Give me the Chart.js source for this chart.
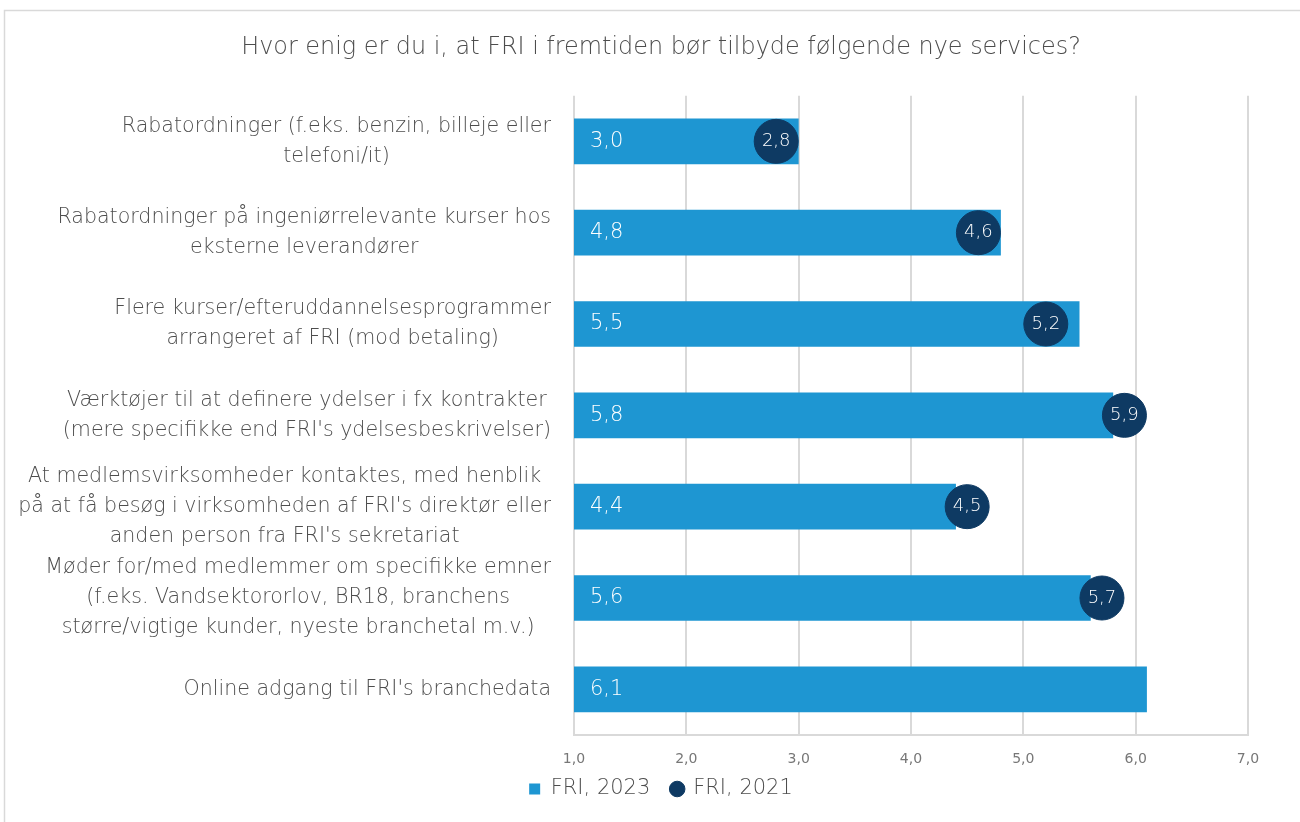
<!DOCTYPE html>
<html>
<head>
<meta charset="utf-8">
<script src="https://cdn.jsdelivr.net/npm/chart.js@4"></script>
<style>
  body { margin: 0; background: #fff; }
  #wrap { width: 1300px; height: 822px; position: relative; }
</style>
</head>
<body>
<div id="wrap"><canvas id="myChart"></canvas></div>
<script>
const titleText = "Hvor enig er du i, at FRI i fremtiden bør tilbyde følgende nye services?";
const categories = [
  ["Rabatordninger (f.eks. benzin, billeje eller", "telefoni/it)"],
  ["Rabatordninger på ingeniørrelevante kurser hos", "eksterne leverandører"],
  ["Flere kurser/efteruddannelsesprogrammer", "arrangeret af FRI (mod betaling)"],
  ["Værktøjer til at definere ydelser i fx kontrakter", "(mere specifikke end FRI's ydelsesbeskrivelser)"],
  ["At medlemsvirksomheder kontaktes, med henblik", "på at få besøg i virksomheden af FRI's direktør eller", "anden person fra FRI's sekretariat"],
  ["Møder for/med medlemmer om specifikke emner", "(f.eks. Vandsektororlov, BR18, branchens", "større/vigtige kunder, nyeste branchetal m.v.)"],
  ["Online adgang til FRI's branchedata"]
];
const seriesNames = ["FRI, 2023", "FRI, 2021"];
const values2023 = [3.0, 4.8, 5.5, 5.8, 4.4, 5.6, 6.1];
const values2021 = [2.8, 4.6, 5.2, 5.9, 4.5, 5.7, null];
const xTicks = [1, 2, 3, 4, 5, 6, 7];

const FONT = "'DejaVu Sans'";
const W = 200;
const TXT = "#4d4d4d";
const fmt = v => v.toFixed(1).replace(".", ",");

// tegner y-labels: centreret linje for linje, blokken højrestillet
const labelPlugin = {
  id: "labelPlugin",
  beforeDraw(chart) {
    const ctx = chart.ctx;
    ctx.save();
    ctx.fillStyle = "#fff";
    ctx.fillRect(0, 0, chart.width, chart.height);
    ctx.strokeStyle = "#d9d9d9";
    ctx.lineWidth = 1.5;
    ctx.strokeRect(4.5, 10.5, chart.width + 10, chart.height + 10);
    ctx.restore();
  },
  afterDraw(chart) {
    const ctx = chart.ctx;
    const yScale = chart.scales.y;
    ctx.save();
    ctx.font = W + " 20.6px " + FONT;
    ctx.fillStyle = TXT;
    ctx.textAlign = "center";
    ctx.textBaseline = "middle";
    const lh = 30;
    categories.forEach((lines, i) => {
      const y = yScale.getPixelForTick(i);
      const maxW = Math.max(...lines.map(l => ctx.measureText(l).width));
      const cx = 551 - maxW / 2;
      lines.forEach((l, j) => {
        ctx.fillText(l, cx, y + (j - (lines.length - 1) / 2) * lh);
      });
    });
    // værdier i søjler
    const barMeta = chart.getDatasetMeta(0);
    ctx.fillStyle = "#fff";
    ctx.textAlign = "left";
    ctx.font = W + " 21px " + FONT;
    barMeta.data.forEach((el, i) => {
      ctx.fillText(fmt(values2023[i]), chart.chartArea.left + 16, el.y);
    });
    // værdier i cirkler
    const ptMeta = chart.getDatasetMeta(1);
    ctx.font = W + " 18px " + FONT;
    ctx.textAlign = "center";
    ptMeta.data.forEach((el, i) => {
      if (values2021[i] == null) return;
      ctx.fillText(fmt(values2021[i]), el.x, el.y);
    });
    ctx.restore();
  }
};

const ctx = document.getElementById("myChart").getContext("2d");
new Chart(ctx, {
  type: "bar",
  data: {
    labels: categories.map(c => c.join(" ")),
    datasets: [
      {
        label: seriesNames[0],
        data: values2023.map(v => [1, v]),
        backgroundColor: "#1e96d2",
        categoryPercentage: 1,
        barPercentage: 0.5,
        order: 2,
        pointStyle: "rect"
      },
      {
        type: "line",
        label: seriesNames[1],
        data: values2021,
        indexAxis: "y",
        showLine: false,
        pointRadius: 22,
        pointHoverRadius: 22,
        pointBackgroundColor: "#0e3a63",
        pointBorderColor: "#0e3a63",
        backgroundColor: "#0e3a63",
        borderColor: "#0e3a63",
        pointStyle: "circle",
        order: 1
      }
    ]
  },
  options: {
    indexAxis: "y",
    responsive: true,
    maintainAspectRatio: false,
    animation: false,
    layout: { padding: { left: 22, right: 0, top: 0, bottom: 12.5 } },
    scales: {
      x: {
        min: 1,
        max: 7,
        afterBuildTicks: axis => { axis.ticks = xTicks.map(v => ({ value: v })); },
        afterFit: scale => { scale.height = 35.5; },
        grid: { color: "#d9d9d9", lineWidth: 2, drawTicks: false },
        border: { color: "#d9d9d9", width: 2 },
        ticks: {
          padding: 16,
          color: "#777",
          font: { family: FONT, size: 14 },
          callback: v => fmt(v)
        }
      },
      y: {
        grid: { display: false },
        border: { display: false },
        ticks: { display: false },
        afterFit: scale => { scale.width = 552; }
      },
      // tom højre akse, holder plads til højre for plotområdet
      yRight: {
        type: "linear",
        position: "right",
        grid: { display: false },
        border: { display: false },
        ticks: { display: false },
        afterFit: scale => { scale.width = 52; }
      }
    },
    plugins: {
      title: {
        display: true,
        text: titleText,
        color: TXT,
        font: { family: FONT, size: 23.9, weight: W },
        padding: { top: 33, bottom: 34 }
      },
      legend: {
        position: "bottom",
        labels: {
          usePointStyle: true,
          boxWidth: 11,
          boxHeight: 11,
          padding: 8,
          color: TXT,
          font: { family: FONT, size: 21, weight: W },
          sort: (a, b) => a.datasetIndex - b.datasetIndex,
          generateLabels: chart => {
            const items = Chart.defaults.plugins.legend.labels.generateLabels(chart);
            // lidt ekstra luft mellem de to forklaringer
            items.forEach(it => { if (it.datasetIndex === 0) it.text = it.text + "  "; });
            return items;
          }
        }
      },
      tooltip: { enabled: false }
    }
  },
  plugins: [labelPlugin]
});
</script>
</body>
</html>
